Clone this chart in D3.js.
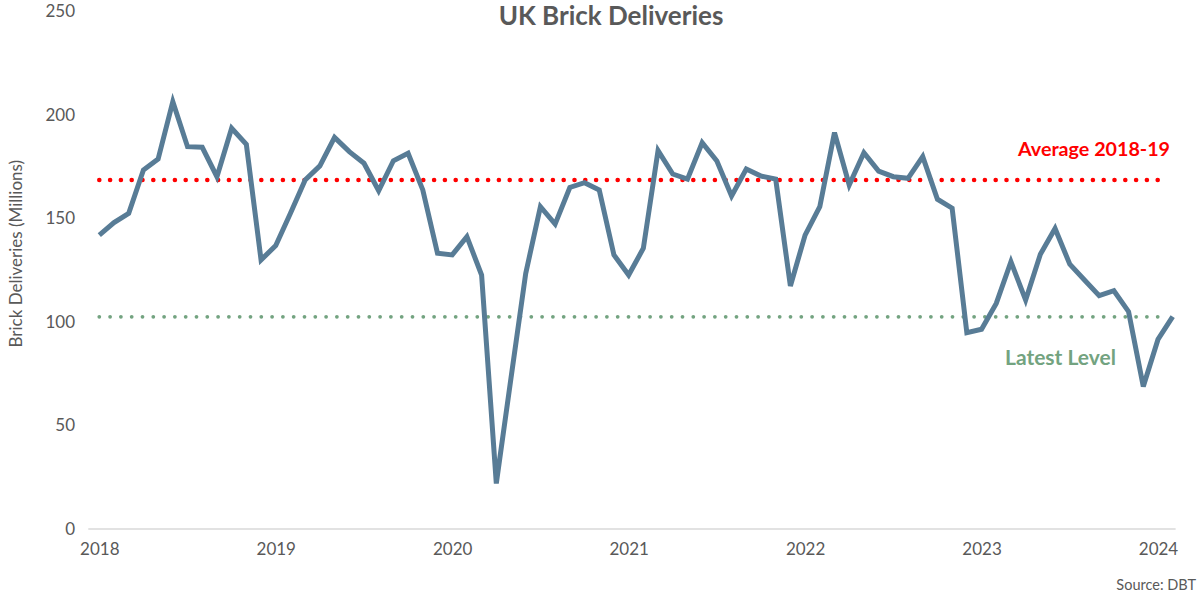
<!DOCTYPE html>
<html>
<head>
<meta charset="utf-8">
<script src="https://cdn.jsdelivr.net/npm/d3@7"></script>
<style>
  html, body { margin: 0; padding: 0; background: #fff; }
  svg { display: block; font-family: Lato, "Open Sans", sans-serif; }
</style>
</head>
<body>
<svg id="chart" width="1200" height="597"></svg>
<script>
// Monthly UK brick deliveries (millions), Jan 2018 - Feb 2024
const months = [
  "2018-01","2018-02","2018-03","2018-04","2018-05","2018-06","2018-07","2018-08","2018-09","2018-10","2018-11","2018-12",
  "2019-01","2019-02","2019-03","2019-04","2019-05","2019-06","2019-07","2019-08","2019-09","2019-10","2019-11","2019-12",
  "2020-01","2020-02","2020-03","2020-04","2020-05","2020-06","2020-07","2020-08","2020-09","2020-10","2020-11","2020-12",
  "2021-01","2021-02","2021-03","2021-04","2021-05","2021-06","2021-07","2021-08","2021-09","2021-10","2021-11","2021-12",
  "2022-01","2022-02","2022-03","2022-04","2022-05","2022-06","2022-07","2022-08","2022-09","2022-10","2022-11","2022-12",
  "2023-01","2023-02","2023-03","2023-04","2023-05","2023-06","2023-07","2023-08","2023-09","2023-10","2023-11","2023-12",
  "2024-01","2024-02"
];
const deliveries = [
  142, 148, 152.5, 173.4, 178.7, 206.4, 184.7, 184.4, 170.2, 193.6, 185.8, 130,
  136.9, 152.5, 168.6, 175.4, 189.2, 182.3, 176.7, 163.4, 177.9, 181.5, 163.8, 133.2,
  132.4, 141.2, 122.7, 22, 73, 123.5, 155.7, 147.3, 165, 167.3, 163.8, 132.4,
  122.7, 135.6, 182.8, 171.5, 169, 186.6, 177.8, 160.9, 173.9, 170.5, 169, 117.4,
  142, 155.7, 191.5, 166.2, 181.8, 172.9, 170.2, 169.4, 179.9, 159.3, 155, 94.8,
  96.5, 109, 129.1, 110.6, 132.7, 145.2, 127.9, 120.3, 112.7, 115.1, 105, 68.8,
  91.6, 102.6
];
const average2018_19 = 168.6;
const latestLevel = 102.5;
const yTicks = [0, 50, 100, 150, 200, 250];
const yearLabels = ["2018","2019","2020","2021","2022","2023","2024"];

const svg = d3.select("#chart");

const x = d3.scaleLinear().domain([0, months.length - 1]).range([99.3, 1172.7]);
const y = d3.scaleLinear().domain([0, 250]).range([529, 11.5]);

const textColor = "#595959";

// Title
svg.append("text")
  .attr("x", 611).attr("y", 25)
  .attr("text-anchor", "middle")
  .attr("font-size", 26).attr("font-weight", "bold")
  .attr("fill", textColor)
  .text("UK Brick Deliveries");

// Y axis (labels only)
const yAxis = d3.axisLeft(y).tickValues(yTicks).tickSize(0).tickPadding(0);
const gy = svg.append("g").attr("transform", "translate(75,0)").call(yAxis);
gy.select(".domain").remove();
gy.selectAll("text").attr("font-size", 17).attr("fill", textColor)
  .attr("font-family", "Lato, 'Open Sans', sans-serif");

// X axis baseline + year labels
const xAxis = d3.axisBottom(x)
  .tickValues(yearLabels.map((d, i) => i * 12))
  .tickFormat((d, i) => yearLabels[i])
  .tickSize(0).tickPadding(14);
const gx = svg.append("g").attr("transform", `translate(0,${y(0)})`).call(xAxis);
gx.select(".domain").remove();
gx.selectAll("text").attr("font-size", 17).attr("fill", textColor)
  .attr("font-family", "Lato, 'Open Sans', sans-serif");
svg.append("line")
  .attr("x1", x(-0.75)).attr("x2", x(73.2))
  .attr("y1", y(0)).attr("y2", y(0))
  .attr("stroke", "#d9d9d9").attr("stroke-width", 1.5);

// Y axis title
svg.append("text")
  .attr("transform", `translate(22,${y(133)}) rotate(-90)`)
  .attr("text-anchor", "middle")
  .attr("font-size", 17).attr("fill", textColor)
  .text("Brick Deliveries (Millions)");

// Reference dotted lines
svg.append("line")
  .attr("x1", x(0)).attr("x2", x(72.6))
  .attr("y1", y(average2018_19)).attr("y2", y(average2018_19))
  .attr("stroke", "#ff0000").attr("stroke-width", 4.6)
  .attr("stroke-linecap", "round").attr("stroke-dasharray", "0 10.8");

svg.append("line")
  .attr("x1", x(0)).attr("x2", x(72.6))
  .attr("y1", y(latestLevel)).attr("y2", y(latestLevel))
  .attr("stroke", "#73a380").attr("stroke-width", 3.8)
  .attr("stroke-linecap", "round").attr("stroke-dasharray", "0 10.8");

// Data line
const line = d3.line().x((d, i) => x(i)).y(d => y(d));
svg.append("path")
  .datum(deliveries)
  .attr("d", line)
  .attr("fill", "none")
  .attr("stroke", "#587c96")
  .attr("stroke-width", 5)
  .attr("stroke-linejoin", "miter")
  .attr("stroke-linecap", "butt");

// Annotations
svg.append("text")
  .attr("x", 1170).attr("y", 156)
  .attr("text-anchor", "end")
  .attr("font-size", 19.7).attr("font-weight", "bold")
  .attr("fill", "#ff0000")
  .text("Average 2018-19");

svg.append("text")
  .attr("x", 1116).attr("y", 365)
  .attr("text-anchor", "end")
  .attr("font-size", 21).attr("font-weight", "bold")
  .attr("fill", "#73a380")
  .text("Latest Level");

svg.append("text")
  .attr("x", 1196).attr("y", 590)
  .attr("text-anchor", "end")
  .attr("font-size", 14.5)
  .attr("fill", textColor)
  .text("Source: DBT");
</script>
</body>
</html>
